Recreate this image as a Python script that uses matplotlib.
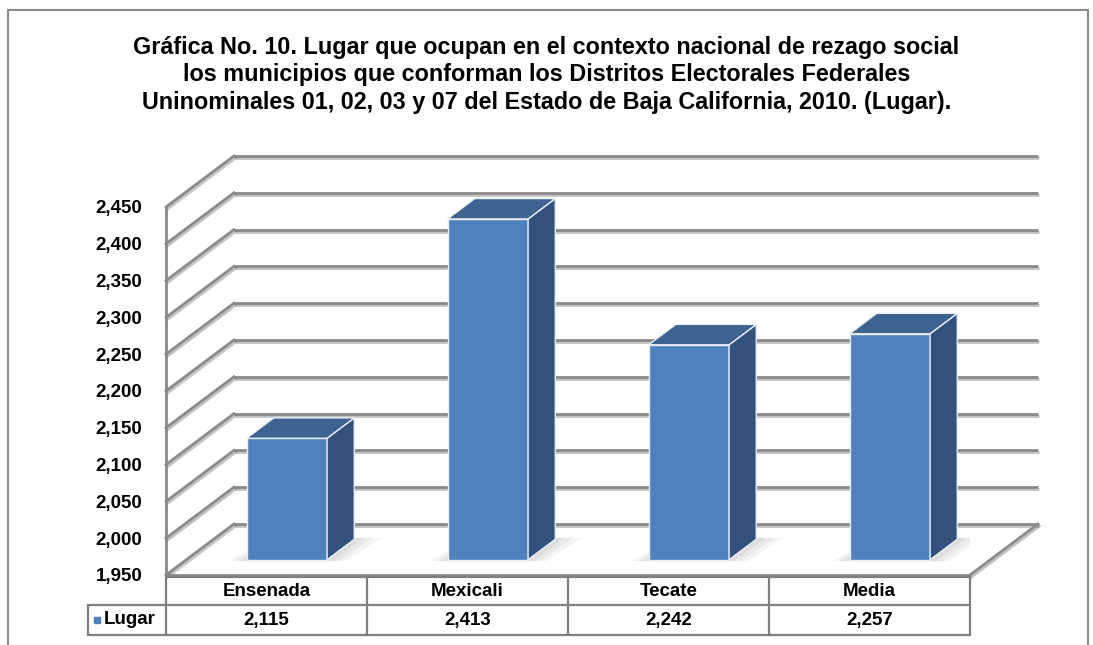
import matplotlib.pyplot as plt
import matplotlib.patheffects as pe
from matplotlib.patches import Polygon, Rectangle

# data
categories = ["Ensenada", "Mexicali", "Tecate", "Media"]
values = [2115, 2413, 2242, 2257]
series_name = "Lugar"
y_ticks = list(range(1950, 2451, 50))

title = ("Gráfica No. 10. Lugar que ocupan en el contexto nacional de rezago social\n"
         "los municipios que conforman los Distritos Electorales Federales\n"
         "Uninominales 01, 02, 03 y 07 del Estado de Baja California, 2010. (Lugar).")

FRONT = "#4F81BD"
SIDE = "#32527D"
TOP = "#3E6391"
GRID = "#8A8A8A"

# pseudo-3d depth offset (category units, value units)
DX = 0.338
DY = 69.3
Z0, Z1 = 0.3, 0.7
BW = 0.4

plt.rcParams['font.family'] = ['Liberation Sans', 'DejaVu Sans']
plt.rcParams['font.weight'] = 'bold'

W, H = 1093, 645
fig = plt.figure(figsize=(W / 100, H / 100), dpi=100)
ax = fig.add_axes([166 / W, (H - 575) / H, (970 - 166) / W, (575 - 207) / H])
ax.set_xlim(0, len(categories))
ax.set_ylim(y_ticks[0], y_ticks[-1])
ax.set_frame_on(False)
ax.set_xticks([])
ax.set_yticks(y_ticks)
ax.set_yticklabels([f"{t:,}" for t in y_ticks], fontsize=13.5, fontweight='bold')
ax.tick_params(axis='y', length=0, pad=17)

n = len(categories)
shadow = [pe.SimpleLineShadow(offset=(1, -1.5), shadow_color='#555555', alpha=0.35), pe.Normal()]
base = y_ticks[0]

# walls: back gridlines + side wall diagonals
for t in y_ticks:
    ax.plot([DX, n + DX], [t + DY, t + DY], color=GRID, lw=2, clip_on=False,
            solid_capstyle='butt', path_effects=shadow, zorder=1)
    ax.plot([0, DX], [t, t + DY], color=GRID, lw=2, clip_on=False,
            path_effects=shadow, zorder=1)
ax.plot([0, 0], [base, y_ticks[-1]], color=GRID, lw=2, clip_on=False, zorder=1)
# floor edges
ax.plot([n, n + DX], [base, base + DY], color=GRID, lw=2, clip_on=False,
        path_effects=shadow, zorder=1)
ax.plot([0, n], [base, base], color=GRID, lw=2, clip_on=False, zorder=1)

# bars
xs = [i + 0.5 + Z0 * DX for i in range(n)]
d = Z1 - Z0
yb = base + Z0 * DY
# soft floor shadows
for x in xs:
    for k in range(3):
        grow = 0.03 * (k + 1)
        ax.add_patch(Polygon([(x - BW / 2 - grow, yb - 2), (x + BW / 2 + grow, yb - 2),
                              (x + BW / 2 + d * DX + grow * 1.5, yb + d * DY + 2),
                              (x - BW / 2 + d * DX, yb + d * DY + 2)],
                             closed=True, facecolor='#000000', alpha=0.045, lw=0, zorder=2))
ax.bar(xs, [v - base for v in values], bottom=yb, width=BW,
       color=FRONT, edgecolor='#E8EEF6', linewidth=1, zorder=3, clip_on=False)
for x, v in zip(xs, values):
    xl, xr = x - BW / 2, x + BW / 2
    yt = v + Z0 * DY
    side = Polygon([(xr, yb), (xr + d * DX, yb + d * DY), (xr + d * DX, yt + d * DY), (xr, yt)],
                   closed=True, facecolor=SIDE, edgecolor='#E8EEF6', lw=1, zorder=3, clip_on=False)
    top = Polygon([(xl, yt), (xr, yt), (xr + d * DX, yt + d * DY), (xl + d * DX, yt + d * DY)],
                  closed=True, facecolor=TOP, edgecolor='#E8EEF6', lw=1, zorder=3, clip_on=False)
    ax.add_patch(side)
    ax.add_patch(top)


# data table (rows positioned in pixel rows of the figure)
def py(row):
    return base - (row - 575) * 50 / 36.8


leg_x = (88 - 166) / 201
r0, r1, r2 = py(577), py(605), py(635)
tkw = dict(color='#808080', lw=1.6, clip_on=False, zorder=2)
ax.plot([0, n], [r0, r0], **tkw)
ax.plot([leg_x, n], [r1, r1], **tkw)
ax.plot([leg_x, n], [r2, r2], **tkw)
for i in range(n + 1):
    ax.plot([i, i], [r0, r2], **tkw)
ax.plot([leg_x, leg_x], [r1, r2], **tkw)
for i, (c, v) in enumerate(zip(categories, values)):
    ax.text(i + 0.5, (r0 + r1) / 2, c, ha='center', va='center', fontsize=13.5, fontweight='bold')
    ax.text(i + 0.5, (r1 + r2) / 2, f"{v:,}", ha='center', va='center', fontsize=13.5, fontweight='bold')
ax.plot([leg_x + 0.045], [(r1 + r2) / 2], marker='s', ms=5, color=FRONT, clip_on=False)
ax.text(leg_x + 0.08, (r1 + r2) / 2, series_name, ha='left', va='center', fontsize=13.5, fontweight='bold')

# outer frame
fig.patches.append(Rectangle((8 / W, -0.05), (1088 - 8) / W, 1.05 - 10 / H, transform=fig.transFigure,
                             fill=False, edgecolor='#8C8C8C', lw=1.5))

fig.text(0.5, (H - 75) / H, title, ha='center', va='center', fontsize=16.8,
         fontweight='bold', linespacing=1.25)

fig.savefig("out.png", dpi=100)
